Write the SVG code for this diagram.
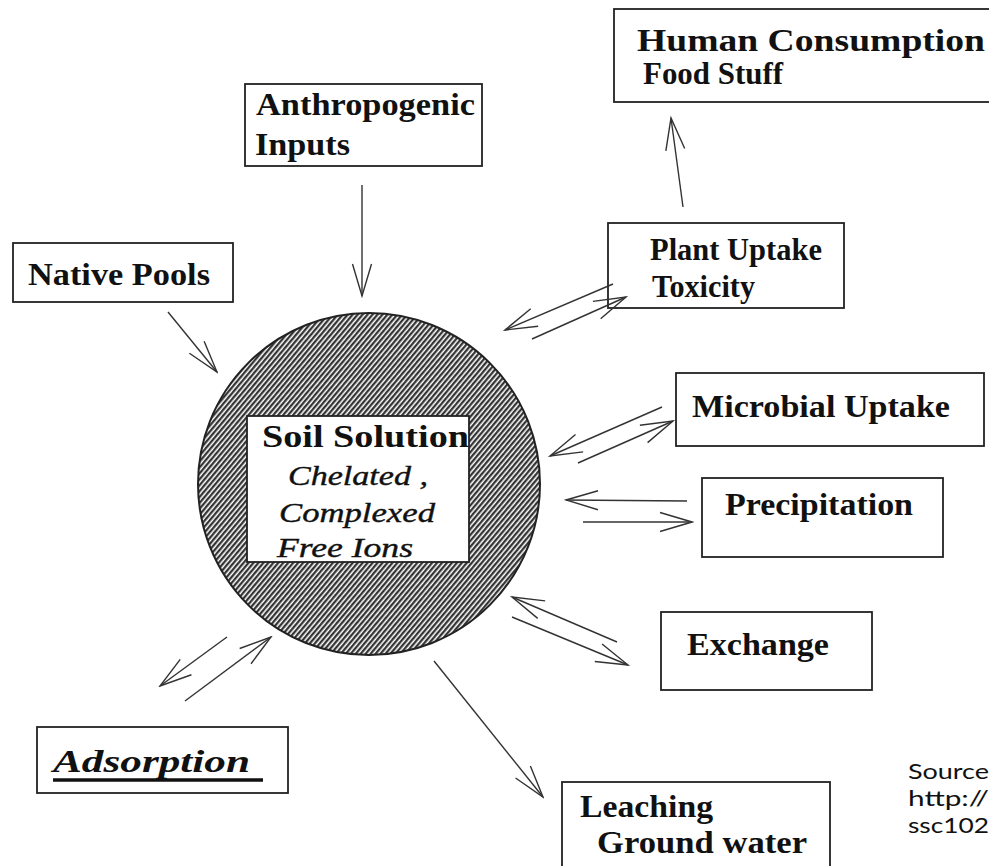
<svg xmlns="http://www.w3.org/2000/svg" width="989" height="866" viewBox="0 0 989 866">
<style>
.box{fill:#fff;stroke:#222;stroke-width:1.8}
.t{font-family:"Liberation Serif","Times New Roman",serif;font-weight:bold;font-size:31px;fill:#111}
.ti{font-family:"Liberation Serif","Times New Roman",serif;font-style:italic;font-size:28px;fill:#111;stroke:#111;stroke-width:0.4}
.c{fill:none;stroke:#333;stroke-width:1.4;marker-end:url(#ah)}
.src{font-family:"Lato","Open Sans",sans-serif;font-size:21px;fill:#111}
</style>
<defs>
<pattern id="hatch" patternUnits="userSpaceOnUse" width="3.8" height="3.8" patternTransform="rotate(40)">
<rect width="3.8" height="3.8" fill="#fff"/>
<line x1="1.2" y1="0" x2="1.2" y2="3.8" stroke="#2a2a2a" stroke-width="2.2"/>
</pattern>
<marker id="ah" viewBox="-34 -12 36 24" markerWidth="36" markerHeight="24" refX="0" refY="0" orient="auto" markerUnits="userSpaceOnUse">
<path d="M-32,-9.5 L0,0 L-32,9.5" fill="none" stroke="#333" stroke-width="1.4"/>
</marker>
</defs>
<rect width="989" height="866" fill="#fff"/>

<g id="soil-solution">
<circle cx="369" cy="484" r="171" fill="url(#hatch)" stroke="#222" stroke-width="2"/>
<rect class="box" x="247" y="416" width="222" height="146"/>
<text class="t" x="262" y="447" font-size="34" textLength="207" lengthAdjust="spacingAndGlyphs">Soil Solution</text>
<text class="ti" x="288" y="485" textLength="140" lengthAdjust="spacingAndGlyphs">Chelated ,</text>
<text class="ti" x="279" y="522" textLength="156" lengthAdjust="spacingAndGlyphs">Complexed</text>
<text class="ti" x="277" y="557" textLength="136" lengthAdjust="spacingAndGlyphs">Free Ions</text>
</g>

<g id="anthropogenic">
<rect class="box" x="245" y="84" width="237" height="82"/>
<text class="t" x="256" y="115" textLength="219" lengthAdjust="spacingAndGlyphs">Anthropogenic</text>
<text class="t" x="255" y="155" textLength="95" lengthAdjust="spacingAndGlyphs">Inputs</text>
</g>

<g id="native-pools">
<rect class="box" x="13" y="243" width="220" height="59"/>
<text class="t" x="28" y="285" textLength="182" lengthAdjust="spacingAndGlyphs">Native Pools</text>
</g>

<g id="human-consumption">
<rect class="box" x="614" y="9" width="390" height="93"/>
<text class="t" x="637" y="51" font-size="29" textLength="348" lengthAdjust="spacingAndGlyphs">Human Consumption</text>
<text class="t" x="643" y="84" font-size="29" textLength="140" lengthAdjust="spacingAndGlyphs">Food Stuff</text>
</g>

<g id="plant-uptake">
<rect class="box" x="608" y="223" width="236" height="85"/>
<text class="t" x="650" y="260" textLength="172" lengthAdjust="spacingAndGlyphs">Plant Uptake</text>
<text class="t" x="652" y="297" textLength="103" lengthAdjust="spacingAndGlyphs">Toxicity</text>
</g>

<g id="microbial-uptake">
<rect class="box" x="676" y="373" width="308" height="73"/>
<text class="t" x="692" y="417" textLength="258" lengthAdjust="spacingAndGlyphs">Microbial Uptake</text>
</g>

<g id="precipitation">
<rect class="box" x="702" y="478" width="241" height="79"/>
<text class="t" x="725" y="515" textLength="188" lengthAdjust="spacingAndGlyphs">Precipitation</text>
</g>

<g id="exchange">
<rect class="box" x="661" y="612" width="211" height="78"/>
<text class="t" x="687" y="655" textLength="142" lengthAdjust="spacingAndGlyphs">Exchange</text>
</g>

<g id="adsorption">
<rect class="box" x="37" y="727" width="251" height="66"/>
<text class="t" x="53" y="772" font-style="italic" textLength="197" lengthAdjust="spacingAndGlyphs">Adsorption</text>
<line x1="53" y1="780" x2="263" y2="780" stroke="#111" stroke-width="3.5"/>
</g>

<g id="leaching">
<rect class="box" x="562" y="782" width="268" height="100"/>
<text class="t" x="580" y="817" textLength="133" lengthAdjust="spacingAndGlyphs">Leaching</text>
<text class="t" x="597" y="853" textLength="210" lengthAdjust="spacingAndGlyphs">Ground water</text>
</g>

<g id="source">
<text class="src" x="908" y="779" textLength="81" lengthAdjust="spacingAndGlyphs">Source</text>
<text class="src" x="908" y="806" textLength="81" lengthAdjust="spacingAndGlyphs">http://</text>
<text class="src" x="908" y="833" textLength="81" lengthAdjust="spacingAndGlyphs">ssc102</text>
</g>

<g id="connectors">
<line class="c" x1="362" y1="185" x2="362" y2="296"/>
<line class="c" x1="168" y1="312" x2="217" y2="372"/>
<line class="c" x1="683" y1="207" x2="671" y2="118"/>
<line class="c" x1="613" y1="284" x2="505" y2="330"/>
<line class="c" x1="532" y1="339" x2="626" y2="297"/>
<line class="c" x1="662" y1="407" x2="550" y2="456"/>
<line class="c" x1="578" y1="463" x2="673" y2="421"/>
<line class="c" x1="687" y1="501" x2="566" y2="500"/>
<line class="c" x1="583" y1="522" x2="692" y2="522"/>
<line class="c" x1="617" y1="642" x2="512" y2="597"/>
<line class="c" x1="512" y1="617" x2="628" y2="665"/>
<line class="c" x1="227" y1="637" x2="160" y2="686"/>
<line class="c" x1="185" y1="701" x2="271" y2="637"/>
<line class="c" x1="434" y1="661" x2="543" y2="797"/>
</g>
</svg>
